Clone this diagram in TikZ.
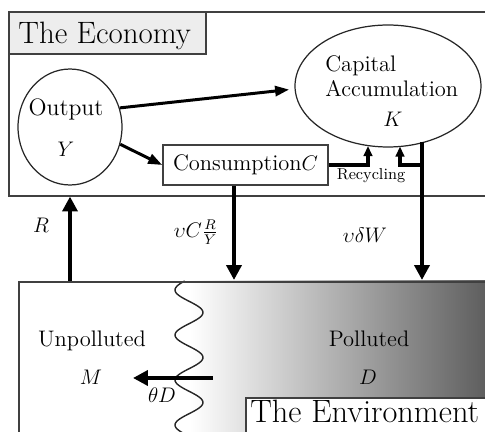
\documentclass[tikz,border=0pt]{standalone}
\usepackage{amsmath}
\usetikzlibrary{shapes.geometric, arrows.meta, positioning}

\begin{document}
\begin{tikzpicture}[
    x=0.02cm, y=-0.02cm, % one unit = one pixel of the sketch
    font=\fontsize{12.8}{15.4}\selectfont,
    frame/.style={
        rectangle,
        draw=black!75,
        line width=0.9pt,
        inner sep=0pt
    },
    titlebox/.style={
        frame,
        fill=gray!14
    },
    titletxt/.style={inner sep=0pt, font=\fontsize{17.6}{21}\selectfont},
    blob/.style={
        ellipse,
        draw=black!85,
        line width=0.7pt,
        inner sep=0pt
    },
    lbl/.style={inner sep=0pt},
    mlbl/.style={inner sep=0pt, font=\fontsize{12}{14}\selectfont},
    bigarrow/.style={line width=2.8pt, -{Triangle[length=8.5pt, width=8.5pt]}},
    flow/.style={line width=1.7pt, -{Triangle[length=8pt, width=5.7pt]}},
    recy/.style={line width=2pt, -{Triangle[length=5.7pt, width=4.8pt]}},
    wave/.style={line width=0.8pt, draw=black!85}
]
    \useasboundingbox (0,0) rectangle (485,432);

    % =======================================================
    % THE ENVIRONMENT
    % =======================================================
    \shade[left color=white, right color=black!65] (190,281) rectangle (495,445);
    \draw[wave] plot[domain=281:440, samples=120, smooth, variable=\t]
        ({189-14*sin(8*(\t-278.75))}, \t);
    \node[frame, anchor=north west, minimum width=9.6cm, minimum height=3.5cm] (env) at (18,281) {};

    \node[lbl, anchor=base] (unpTxt) at (92,347) {Unpolluted};
    \node[mlbl, anchor=base] (mTxt) at (91,385) {$M$};
    \node[lbl, anchor=base] (polTxt) at (369,347) {Polluted};
    \node[mlbl, anchor=base] (dTxt) at (368,385) {$D$};
    \node[mlbl, anchor=base] (thTxt) at (162,403) {$\theta D$};

    % Title box
    \node[frame, fill=white, anchor=north west, minimum width=5cm, minimum height=1.2cm] (envTitle) at (245,397) {};
    \node[titletxt, anchor=base west, font=\fontsize{18.4}{22}\selectfont] (envTxt) at (250,423) {The Environment};

    % =======================================================
    % THE ECONOMY
    % =======================================================
    \node[frame, anchor=north west, minimum width=9.74cm, minimum height=3.68cm] (econ) at (8,11) {};
    \node[titlebox, anchor=north west, minimum width=3.94cm, minimum height=0.84cm] (econTitle) at (8,11) {};
    \node[titletxt, anchor=base west] (econTxt) at (18,44) {The Economy};

    % Main blocks
    \node[blob, minimum width=2.08cm, minimum height=2.32cm] (out) at (70,127) {};
    \node[lbl, anchor=base, font=\fontsize{13.5}{16}\selectfont] (outTxt) at (66,116) {Output};
    \node[mlbl, anchor=base, font=\fontsize{13}{15}\selectfont] (outY) at (66,157) {$Y$};
    \node[blob, minimum width=3.72cm, minimum height=2.44cm] (cap) at (388,86) {};
    \node[lbl, anchor=base west] (capTxt) at (325,72) {Capital};
    \node[lbl, anchor=base west] (accTxt) at (325,97) {Accumulation};
    \node[mlbl, anchor=base] (capK) at (393,127) {$K$};
    \node[frame, fill=white, minimum width=3.3cm, minimum height=0.8cm] (cons) at (245.5,165) {Consumption$C$};

    % Output flows
    \draw[flow, shorten >=3pt] (out.21) -- ([yshift=-0.06cm]cap.west);
    \draw[flow] (out.-19) -- (cons.west);

    % Recycling back into capital
    \coordinate (recA) at (368,146);
    \coordinate (recB) at (400,146.5);
    \coordinate (wTop) at (422,142);
    \coordinate (wBot) at (422,280);
    \draw[recy] (cons.east) -| (recA);
    \draw[recy] (wTop |- cons.east) -| (recB);
    \node[lbl, anchor=base, font=\fontsize{9}{11}\selectfont] (recTxt) at (371,180) {Recycling};

    % =======================================================
    % EXCHANGES BETWEEN THE TWO
    % =======================================================
    \coordinate (rBot) at (70,281);
    \coordinate (cBot) at (234,280);
    \draw[bigarrow] (rBot) -- (rBot |- econ.south);
    \draw[bigarrow] (cBot |- cons.south) -- (cBot);
    \draw[bigarrow] (wTop) -- (wBot);

    \node[mlbl, anchor=base] (rTxt) at (41,233) {$R$};
    \node[mlbl] (cTxt) at (196,232) {$\upsilon C\frac{R}{Y}$};
    \node[mlbl, anchor=base] (wTxt) at (365,243) {$\upsilon\delta W$};

    % Self-cleaning of the polluted part
    \coordinate (thStart) at (213,378);
    \coordinate (thEnd) at (133,378);
    \draw[bigarrow] (thStart) -- (thEnd);

\end{tikzpicture}
\end{document}
